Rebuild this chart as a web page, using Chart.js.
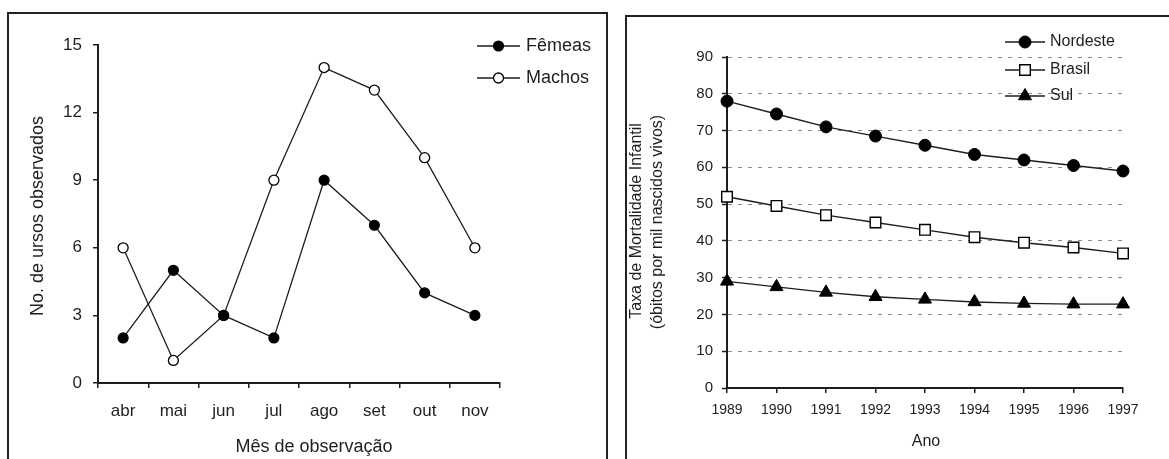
<!DOCTYPE html>
<html>
<head>
<meta charset="utf-8">
<script src="https://cdn.jsdelivr.net/npm/chart.js@4/dist/chart.umd.min.js"></script>
<style>
  html, body { margin: 0; padding: 0; background: #fff; width: 1169px; height: 459px; overflow: hidden; }
  canvas { position: absolute; top: 0; }
  #c1 { left: 0; }
  #c2 { left: 610px; }
  .box { position: absolute; border: 2px solid #222; }
  #b1 { left: 7px; top: 12px; width: 597px; height: 480px; }
  #b2 { left: 625px; top: 15px; width: 600px; height: 480px; }
</style>
</head>
<body>
<div class="box" id="b1"></div>
<div class="box" id="b2"></div>
<canvas id="c1" width="610" height="459"></canvas>
<canvas id="c2" width="559" height="459"></canvas>
<script>
// ---- Data: left chart ----
const months = ['abr', 'mai', 'jun', 'jul', 'ago', 'set', 'out', 'nov'];
const femeas = [2, 5, 3, 2, 9, 7, 4, 3];
const machos = [6, 1, 3, 9, 14, 13, 10, 6];
const leftTitleX = 'Mês de observação';
const leftTitleY = 'No. de ursos observados';

// ---- Data: right chart ----
const years = ['1989', '1990', '1991', '1992', '1993', '1994', '1995', '1996', '1997'];
const nordeste = [78, 74.5, 71, 68.5, 66, 63.5, 62, 60.5, 59];
const brasil = [52, 49.5, 47, 45, 43, 41, 39.5, 38.2, 36.6];
const sul = [29, 27.5, 26, 24.8, 24.1, 23.4, 23, 22.8, 22.8];
const rightTitleX = 'Ano';
const rightTitleY = ['Taxa de Mortalidade Infantil', '(óbitos por mil nascidos vivos)'];

const INK = '#1e1e1e';
const FONT = '"Liberation Sans", Arial, sans-serif';

function drawMarker(ctx, style, x, y, r, fill, stroke, bw) {
  ctx.save();
  ctx.beginPath();
  if (style === 'rect') {
    const s = Math.SQRT1_2 * r;
    ctx.rect(x - s, y - s, 2 * s, 2 * s);
  } else if (style === 'triangle') {
    let rad = 0;
    ctx.moveTo(x + Math.sin(rad) * r, y - Math.cos(rad) * r);
    rad += 2 * Math.PI / 3;
    ctx.lineTo(x + Math.sin(rad) * r, y - Math.cos(rad) * r);
    rad += 2 * Math.PI / 3;
    ctx.lineTo(x + Math.sin(rad) * r, y - Math.cos(rad) * r);
    ctx.closePath();
  } else {
    ctx.arc(x, y, r, 0, Math.PI * 2);
  }
  ctx.fillStyle = fill; ctx.fill();
  ctx.lineWidth = bw; ctx.strokeStyle = stroke; ctx.stroke();
  ctx.restore();
}

const overlay = {
  id: 'overlay',
  afterDraw(chart, args, opts) {
    const ctx = chart.ctx;
    ctx.save();
    const L = opts.legend;
    ctx.font = L.font;
    ctx.textBaseline = 'middle';
    ctx.textAlign = 'left';
    chart.data.datasets.forEach((ds, i) => {
      const y = L.ys[i];
      ctx.strokeStyle = INK; ctx.lineWidth = 1.4;
      ctx.beginPath(); ctx.moveTo(L.x1, y); ctx.lineTo(L.x2, y); ctx.stroke();
      drawMarker(ctx, ds.pointStyle, (L.x1 + L.x2) / 2, y, ds.pointRadius, ds.pointBackgroundColor, ds.pointBorderColor, ds.pointBorderWidth);
      ctx.fillStyle = INK;
      ctx.fillText(ds.label, L.tx, y);
    });
    // axis titles
    ctx.fillStyle = INK;
    ctx.textAlign = 'center';
    ctx.font = opts.titleFont;
    ctx.fillText(opts.xTitle.text, opts.xTitle.x, opts.xTitle.y);
    opts.yTitles.forEach(t => {
      ctx.save();
      ctx.translate(t.x, t.y);
      ctx.rotate(-Math.PI / 2);
      ctx.fillText(t.text, 0, 0);
      ctx.restore();
    });
    ctx.restore();
  }
};

// ---------- Left chart ----------
new Chart(document.getElementById('c1'), {
  type: 'line',
  data: {
    labels: months,
    datasets: [
      { label: 'Fêmeas', data: femeas, borderColor: INK, borderWidth: 1.3, tension: 0,
        pointStyle: 'circle', pointRadius: 5, pointBackgroundColor: '#000', pointBorderColor: '#000', pointBorderWidth: 1.2 },
      { label: 'Machos', data: machos, borderColor: INK, borderWidth: 1.3, tension: 0,
        pointStyle: 'circle', pointRadius: 5, pointBackgroundColor: '#fff', pointBorderColor: '#000', pointBorderWidth: 1.3 }
    ]
  },
  options: {
    responsive: false, animation: false, events: [],
    layout: { padding: { top: 45, right: 110, left: 0, bottom: 0 } },
    plugins: {
      legend: { display: false }, tooltip: { enabled: false },
      overlay: {
        legend: { x1: 477, x2: 520, tx: 526, ys: [46, 78], font: '18px ' + FONT },
        titleFont: '18px ' + FONT,
        xTitle: { text: leftTitleX, x: 314, y: 447 },
        yTitles: [{ text: leftTitleY, x: 38, y: 216 }]
      }
    },
    scales: {
      x: {
        type: 'category', offset: true,
        grid: { offset: true, drawOnChartArea: false, drawTicks: true, tickLength: 5, color: INK, lineWidth: 1.5 },
        border: { display: true, color: INK, width: 2 },
        ticks: { color: INK, font: { family: FONT, size: 17 }, padding: 13, maxRotation: 0 },
        afterFit: s => { s.height = 76; }
      },
      y: {
        min: 0, max: 15,
        grid: { drawOnChartArea: false, drawTicks: true, tickLength: 5, color: INK, lineWidth: 1.5 },
        border: { display: true, color: INK, width: 2 },
        ticks: { stepSize: 3, color: INK, font: { family: FONT, size: 17 }, padding: 11 },
        afterFit: s => { s.width = 98; }
      }
    }
  },
  plugins: [overlay]
});

// ---------- Right chart ----------
const OX = 610;
new Chart(document.getElementById('c2'), {
  type: 'line',
  data: {
    labels: years,
    datasets: [
      { label: 'Nordeste', data: nordeste, borderColor: INK, borderWidth: 1.4, tension: 0,
        pointStyle: 'circle', pointRadius: 6, pointBackgroundColor: '#000', pointBorderColor: '#000', pointBorderWidth: 1 },
      { label: 'Brasil', data: brasil, borderColor: INK, borderWidth: 1.4, tension: 0,
        pointStyle: 'rect', pointRadius: 7.5, pointBackgroundColor: '#fff', pointBorderColor: '#000', pointBorderWidth: 1.4 },
      { label: 'Sul', data: sul, borderColor: INK, borderWidth: 1.4, tension: 0,
        pointStyle: 'triangle', pointRadius: 7.5, pointBackgroundColor: '#000', pointBorderColor: '#000', pointBorderWidth: 1 }
    ]
  },
  options: {
    responsive: false, animation: false, events: [],
    layout: { padding: { top: 57, right: 46, left: 0, bottom: 0 } },
    plugins: {
      legend: { display: false }, tooltip: { enabled: false },
      overlay: {
        legend: { x1: 1005 - OX, x2: 1045 - OX, tx: 1050 - OX, ys: [42, 70, 96], font: '16px ' + FONT },
        titleFont: '16px ' + FONT,
        xTitle: { text: rightTitleX, x: 926 - OX, y: 442 },
        yTitles: [{ text: rightTitleY[0], x: 637 - OX, y: 221 }, { text: rightTitleY[1], x: 658 - OX, y: 222 }]
      }
    },
    scales: {
      x: {
        type: 'category', offset: false,
        grid: { offset: false, drawOnChartArea: false, drawTicks: true, tickLength: 5, color: INK, lineWidth: 1.5 },
        border: { display: true, color: INK, width: 2 },
        ticks: { color: INK, font: { family: FONT, size: 14 }, padding: 9, maxRotation: 0, autoSkip: false },
        afterFit: s => { s.height = 71; }
      },
      y: {
        min: 0, max: 90,
        grid: { drawOnChartArea: true, drawTicks: true, tickLength: 5, color: '#8a8a8a', lineWidth: 1,
                tickColor: INK, tickWidth: 1.5, tickBorderDash: [] },
        border: { display: true, color: INK, width: 2, dash: [4, 6] },
        ticks: { stepSize: 10, color: INK, font: { family: FONT, size: 15 }, padding: 9 },
        afterFit: s => { s.width = 117; }
      }
    }
  },
  plugins: [overlay]
});
</script>
</body>
</html>
